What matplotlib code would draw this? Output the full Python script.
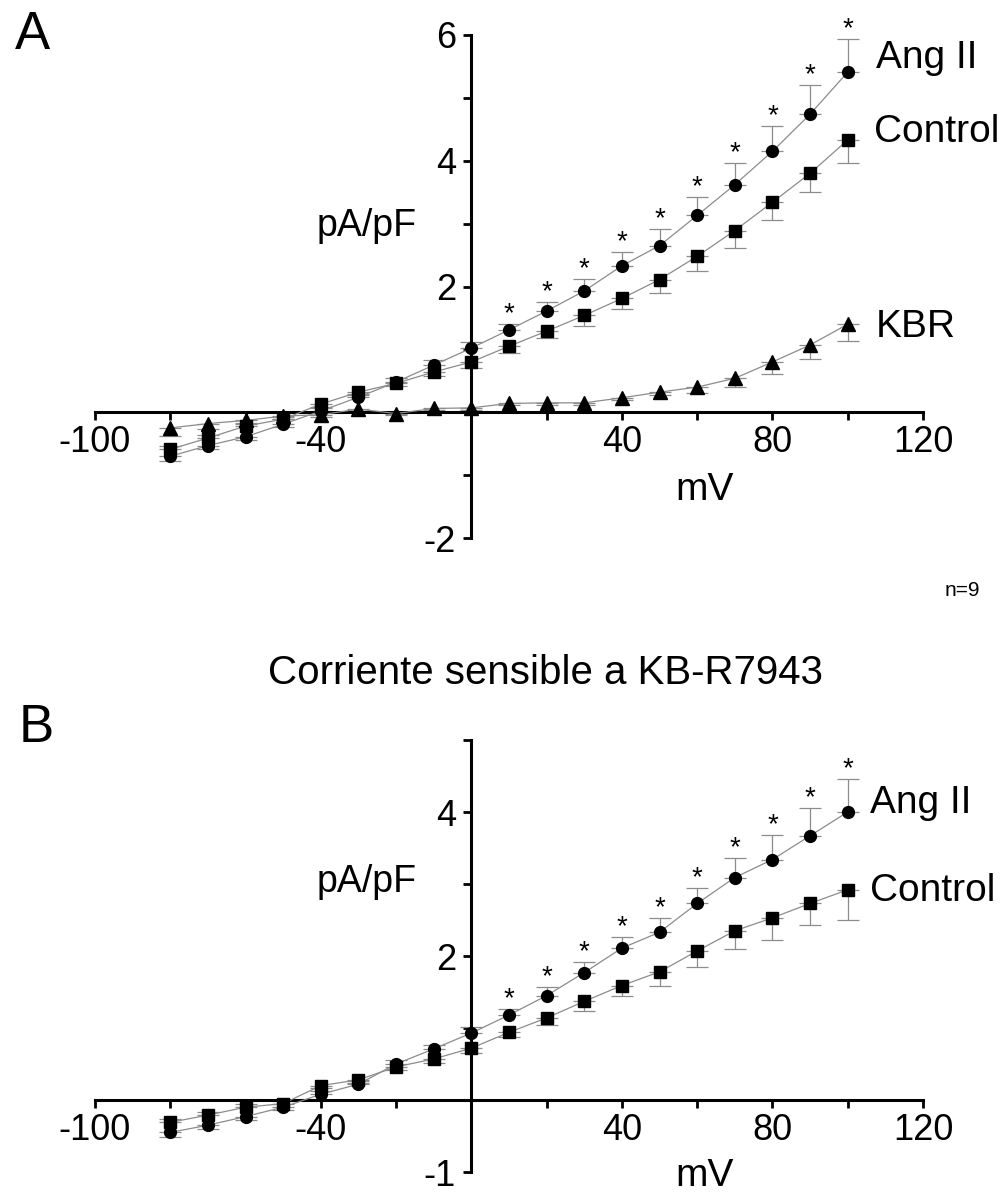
import numpy as np
import matplotlib
matplotlib.use('Agg')
import matplotlib.pyplot as plt

plt.rcParams['font.family'] = ['Liberation Sans', 'DejaVu Sans']
plt.rcParams['axes.unicode_minus'] = False

# voltajes (mV)
mv = [-80, -70, -60, -50, -40, -30, -20, -10, 0, 10, 20, 30, 40, 50, 60, 70, 80, 90, 100]

# Panel A : corriente total (pA/pF)
a_ang = [-0.70, -0.53, -0.39, -0.19, 0.02, 0.24, 0.48, 0.75, 1.02, 1.31, 1.61,
         1.93, 2.33, 2.65, 3.13, 3.62, 4.15, 4.74, 5.41]
a_ang_sem = [0.07, 0.06, 0.05, 0.04, 0.04, 0.05, 0.06, 0.08, 0.10, 0.10, 0.15,
             0.19, 0.22, 0.26, 0.30, 0.34, 0.40, 0.46, 0.53]
a_ctl = [-0.59, -0.41, -0.22, -0.11, 0.13, 0.32, 0.46, 0.64, 0.80, 1.05, 1.29,
         1.54, 1.81, 2.11, 2.48, 2.89, 3.34, 3.80, 4.33]
a_ctl_sem = [0.06, 0.05, 0.05, 0.04, 0.04, 0.05, 0.05, 0.07, 0.09, 0.10, 0.11,
             0.17, 0.17, 0.21, 0.24, 0.28, 0.29, 0.30, 0.37]
a_kbr = [-0.25, -0.18, -0.13, -0.06, -0.04, 0.05, -0.02, 0.06, 0.07, 0.14, 0.15,
         0.15, 0.23, 0.32, 0.40, 0.54, 0.80, 1.07, 1.40]
a_kbr_sem = [0.12, 0.08, 0.05, 0.04, 0.03, 0.03, 0.03, 0.03, 0.03, 0.03, 0.03,
             0.03, 0.04, 0.05, 0.10, 0.14, 0.19, 0.23, 0.27]

# Panel B : corriente sensible a KB-R7943 (pA/pF)
b_ang = [-0.45, -0.35, -0.23, -0.10, 0.08, 0.22, 0.50, 0.71, 0.93, 1.18, 1.45,
         1.77, 2.11, 2.33, 2.73, 3.09, 3.34, 3.67, 4.00]
b_ang_sem = [0.06, 0.05, 0.05, 0.04, 0.04, 0.05, 0.05, 0.06, 0.08, 0.09, 0.12,
             0.15, 0.15, 0.20, 0.22, 0.27, 0.34, 0.38, 0.46]
b_ctl = [-0.31, -0.21, -0.10, -0.05, 0.20, 0.28, 0.46, 0.57, 0.72, 0.94, 1.14,
         1.37, 1.59, 1.78, 2.07, 2.35, 2.53, 2.73, 2.92]
b_ctl_sem = [0.05, 0.05, 0.04, 0.04, 0.04, 0.04, 0.05, 0.06, 0.07, 0.07, 0.10,
             0.13, 0.15, 0.20, 0.22, 0.25, 0.31, 0.30, 0.42]

sig_from = 10   # asteriscos desde +10 mV

xticks = [-100, -80, -60, -40, -20, 0, 20, 40, 60, 80, 100, 120]
xlabels = ['-100', '', '', '-40', '', '', '', '40', '', '80', '', '120']

W, H = 1008, 1197
fig = plt.figure(figsize=(W / 100, H / 100), dpi=100)

grey = '#8c8c8c'


def serie(ax, y, sem, marker, ms, modo):
    y = np.array(y)
    sem = np.array(sem)
    if modo == 'fuera':      # se aleja de cero
        lo = np.where(y < 0, sem, 0)
        hi = np.where(y >= 0, sem, 0)
    elif modo == 'dentro':   # hacia cero
        lo = np.where(y >= 0, sem, 0)
        hi = np.where(y < 0, sem, 0)
    else:
        lo = sem
        hi = np.zeros_like(sem)
    ax.errorbar(mv, y, yerr=[lo, hi], fmt='none', ecolor=grey, elinewidth=0.9,
                capsize=8, capthick=0.9, zorder=2, clip_on=False)
    ax.plot(mv, y, '-', color=grey, lw=0.9, zorder=3, clip_on=False)
    ax.plot(mv, y, linestyle='none', marker=marker, ms=ms, color='black',
            zorder=4, clip_on=False)
    return y + hi


def ejes(ax, ymin, ymax, yticklabels):
    ax.set_xlim(-100, 120)
    ax.set_ylim(ymin, ymax)
    for s in ['top', 'right']:
        ax.spines[s].set_visible(False)
    ax.spines['left'].set_position(('data', 0))
    ax.spines['bottom'].set_position(('data', 0))
    for s in ['left', 'bottom']:
        ax.spines[s].set_linewidth(2.2)
    ax.set_xticks(xticks)
    ax.set_xticklabels(xlabels)
    yt = list(range(ymin, ymax + 1))
    ax.set_yticks(yt)
    ax.set_yticklabels([yticklabels.get(v, '') for v in yt])
    ax.tick_params(axis='both', direction='out', length=6, width=2,
                   labelsize=26)
    ax.tick_params(axis='x', pad=3)
    ax.tick_params(axis='y', pad=5)
    ax.patch.set_visible(False)


def asteriscos(ax, tops):
    for x, t in zip(mv, tops):
        if x >= sig_from:
            ax.annotate('*', (x, t), xytext=(0, 2), textcoords='offset points',
                        ha='center', va='baseline', fontsize=20)


# ---------- Panel A ----------
axA = fig.add_axes([95 / W, 1 - 538 / H, 828 / W, 503 / H])
ejes(axA, -2, 6, {6: '6', 4: '4', 2: '2', -2: '-2'})
top_ang = serie(axA, a_ang, a_ang_sem, 'o', 8.5, 'fuera')
serie(axA, a_ctl, a_ctl_sem, 's', 8, 'dentro')
serie(axA, a_kbr, a_kbr_sem, '^', 10, 'abajo')
asteriscos(axA, top_ang)

axA.text(107.5, 5.63, 'Ang II', fontsize=28, va='center', ha='left')
axA.text(107, 4.45, 'Control', fontsize=28, va='center', ha='left')
axA.text(107.5, 1.35, 'KBR', fontsize=28, va='center', ha='left')
axA.text(-14.5, 2.97, 'pA/pF', fontsize=27, va='center', ha='right')
axA.text(62, -1.24, 'mV', fontsize=28, va='center', ha='center')

# ---------- Panel B ----------
axB = fig.add_axes([95 / W, 1 - 1172 / H, 828 / W, 432 / H])
ejes(axB, -1, 5, {4: '4', 2: '2', -1: '-1'})
top_ang_b = serie(axB, b_ang, b_ang_sem, 'o', 8.5, 'fuera')
serie(axB, b_ctl, b_ctl_sem, 's', 8, 'dentro')
asteriscos(axB, top_ang_b)

axB.text(106, 4.13, 'Ang II', fontsize=28, va='center', ha='left')
axB.text(106, 2.90, 'Control', fontsize=28, va='center', ha='left')
axB.text(-14.5, 3.03, 'pA/pF', fontsize=27, va='center', ha='right')
axB.text(62, -1.05, 'mV', fontsize=28, va='center', ha='center')

# textos sueltos
fig.text(32 / W, 1 - 35 / H, 'A', fontsize=38, ha='center', va='center')
fig.text(36 / W, 1 - 728 / H, 'B', fontsize=38, ha='center', va='center')
fig.text(545 / W, 1 - 673 / H, 'Corriente sensible a KB-R7943', fontsize=29,
         ha='center', va='center')
fig.text(962 / W, 1 - 590 / H, 'n=9', fontsize=15, ha='center', va='center')

fig.savefig('out.png', dpi=100)
